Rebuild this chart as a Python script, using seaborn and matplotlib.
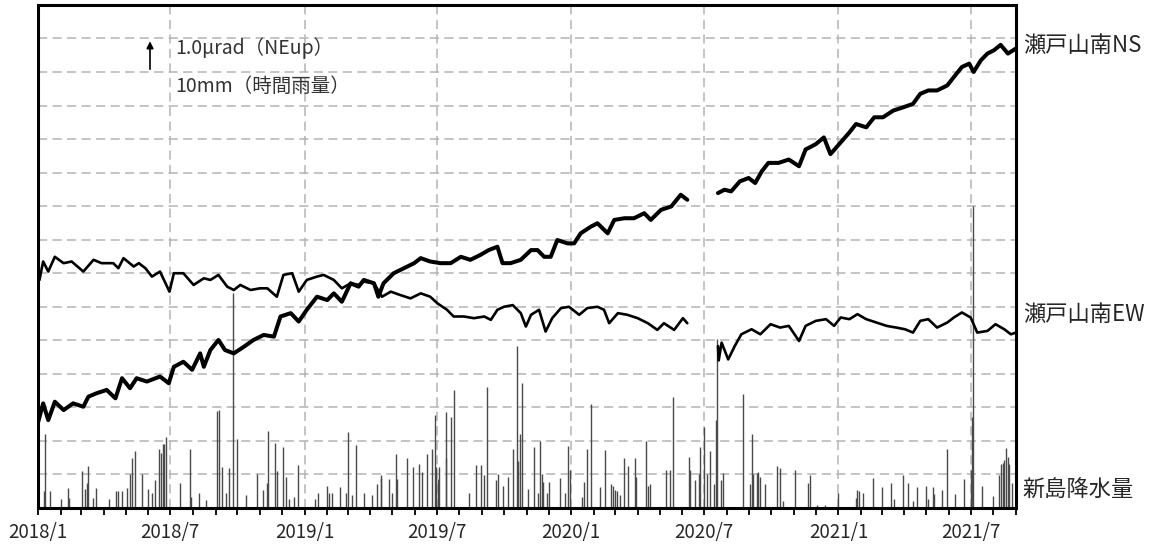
import pandas as pd
import matplotlib.pyplot as plt
import matplotlib.dates as mdates
from matplotlib.ticker import FuncFormatter
import numpy as np
import seaborn as sns

sns.set_style('white')
plt.rcParams['font.family'] = ['Noto Sans CJK JP', 'DejaVu Sans']

start = pd.Timestamp('2018-01-01')

# 瀬戸山南NS (日数: 2018/1/1からの経過日, 値: 図上の位置 [μrad])
ns_day = [0, 7, 14, 23, 35, 48, 62, 69, 80, 94, 106, 115, 126, 135, 149, 167, 179, 186,
          199, 211, 222, 227, 236, 247, 256, 268, 282, 295, 309, 323, 332, 346, 357, 368,
          382, 396, 405, 416, 428, 439, 446, 460, 466, 473, 487, 501, 515, 524, 537, 551,
          565, 579, 592, 606, 617, 629, 636, 647, 661, 675, 684, 693, 702, 711, 725, 734,
          743, 757, 766, 780, 789, 803, 816, 830, 839, 853, 867, 880, 889,
          931, 940, 949, 961, 973, 982, 991, 1000, 1014, 1028, 1042, 1051, 1065, 1076,
          1085, 1097, 1111, 1120, 1134, 1145, 1157, 1171, 1185, 1198, 1208, 1219, 1231,
          1245, 1254, 1265, 1275, 1281, 1291, 1300, 1309, 1318, 1328, 1339]
ns_val = [2.55, 3.12, 2.62, 3.17, 2.92, 3.12, 3.02, 3.32, 3.42, 3.52, 3.27, 3.87, 3.57, 3.87,
          3.77, 3.92, 3.72, 4.21, 4.36, 4.12, 4.61, 4.21, 4.71, 5.01, 4.71, 4.61, 4.81, 5.01,
          5.16, 5.11, 5.71, 5.81, 5.56, 5.91, 6.30, 6.20, 6.40, 6.15, 6.70, 6.60, 6.80, 6.70,
          6.30, 6.70, 7.00, 7.15, 7.30, 7.45, 7.35, 7.30, 7.30, 7.49, 7.40, 7.55, 7.69, 7.79,
          7.30, 7.30, 7.40, 7.69, 7.69, 7.49, 7.49, 7.99, 7.89, 7.89, 8.19, 8.39, 8.49, 8.19,
          8.59, 8.64, 8.64, 8.79, 8.59, 8.89, 8.99, 9.34, 9.19,
          9.39, 9.49, 9.44, 9.74, 9.84, 9.69, 10.04, 10.29, 10.29, 10.39, 10.19, 10.69, 10.85,
          11.05, 10.55, 10.85, 11.20, 11.45, 11.35, 11.65, 11.65, 11.85, 11.95, 12.05, 12.35,
          12.45, 12.45, 12.60, 12.85, 13.15, 13.25, 13.00, 13.35, 13.55, 13.65, 13.81, 13.55,
          13.70]

# 瀬戸山南EW
ew_day = [0, 2, 7, 14, 23, 35, 46, 62, 76, 87, 103, 110, 117, 131, 138, 147, 156, 167,
          180, 186, 199, 213, 227, 236, 247, 259, 268, 277, 291, 304, 314, 327, 336, 348,
          357, 368, 382, 391, 405, 416, 428, 439, 446, 460, 471, 483, 496, 510, 524, 537,
          547, 560, 569, 583, 597, 611, 620, 629, 638, 650, 661, 668, 675, 686, 695, 704,
          716, 727, 741, 752, 766, 775, 782, 794, 807, 821, 835, 848, 857, 871, 883, 889,
          931, 932, 936, 945, 954, 963, 977, 989, 1003, 1016, 1028, 1042, 1051, 1065, 1079,
          1090, 1099, 1111, 1122, 1134, 1148, 1162, 1175, 1187, 1198, 1208, 1219, 1231,
          1245, 1254, 1265, 1277, 1286, 1300, 1311, 1323, 1332, 1339]
ew_val = [7.05, 6.80, 7.35, 7.05, 7.49, 7.30, 7.35, 7.05, 7.40, 7.30, 7.30, 7.15, 7.45,
          7.20, 7.30, 7.15, 6.90, 7.05, 6.45, 7.00, 7.00, 6.65, 6.85, 6.80, 6.95, 6.60, 6.50,
          6.65, 6.50, 6.55, 6.55, 6.30, 6.95, 7.00, 6.45, 6.80, 6.90, 6.95, 6.80, 6.55, 6.70,
          6.65, 6.75, 6.70, 6.30, 6.45, 6.35, 6.25, 6.40, 6.30, 6.10, 5.91, 5.71, 5.71, 5.66,
          5.71, 5.61, 5.91, 6.00, 6.05, 5.81, 5.41, 5.76, 5.91, 5.26, 5.66, 5.96, 6.00, 5.76,
          5.96, 6.00, 5.91, 5.51, 5.81, 5.76, 5.66, 5.51, 5.31, 5.51, 5.31, 5.66, 5.51,
          4.83, 4.40, 4.93, 4.43, 4.83, 5.18, 5.33, 5.18, 5.48, 5.38, 5.43, 4.98, 5.43, 5.58,
          5.63, 5.43, 5.68, 5.63, 5.78, 5.63, 5.53, 5.43, 5.38, 5.33, 5.23, 5.58, 5.63, 5.38,
          5.53, 5.68, 5.83, 5.68, 5.23, 5.28, 5.48, 5.33, 5.18, 5.23]

# 新島降水量 (時間雨量 mm)
rain_day = [8, 9, 17, 32, 41, 43, 60, 64, 67, 68,
            75, 80, 97, 107, 110, 115, 122, 126, 128, 133,
            143, 150, 156, 160, 166, 169, 171, 173, 175, 194,
            208, 210, 220, 230, 245, 248, 252, 257, 262, 267,
            273, 285, 300, 308, 313, 315, 325, 327, 336, 339,
            344, 351, 356, 379, 384, 396, 399, 403, 414, 421,
            424, 430, 435, 447, 457, 464, 469, 470, 480, 485,
            490, 492, 505, 513, 522, 526, 532, 539, 544, 545,
            547, 549, 558, 559, 565, 569, 590, 600, 606, 610,
            615, 627, 630, 637, 644, 650, 656, 657, 660, 663,
            671, 679, 684, 687, 690, 692, 697, 700, 715, 721,
            725, 729, 745, 748, 752, 757, 769, 776, 785, 787,
            790, 793, 797, 803, 808, 817, 819, 833, 835, 838,
            860, 866, 869, 892, 893, 900, 905, 907, 912, 916,
            920, 925, 928, 930, 935, 938, 965, 975, 977, 979,
            984, 986, 988, 996, 1012, 1016, 1020, 1036, 1054, 1057,
            1066, 1077, 1095, 1120, 1122, 1124, 1130, 1143, 1156, 1168,
            1172, 1185, 1191, 1198, 1204, 1216, 1218, 1225, 1227, 1238,
            1245, 1255, 1268, 1278, 1279, 1280, 1293, 1308, 1316, 1319,
            1321, 1323, 1326, 1328, 1330, 1333]
rain_mm = [5, 22, 5, 2.6, 6, 3, 11, 5.7, 7.4, 12.5,
           3, 6, 2.6, 5, 5, 5, 6, 10, 15, 17,
           10, 5.7, 4.4, 8.4, 17.6, 16.3, 19, 19, 21.3, 7.4,
           17.6, 3.4, 4.6, 2.4, 29, 29.3, 12.3, 4.4, 12, 64,
           20.5, 3.9, 10, 5.4, 7.4, 23, 19.5, 11, 18.3, 9.3,
           2.6, 3.4, 12.9, 2.6, 4.4, 6.7, 4.4, 4.4, 6.2, 4.4,
           22.8, 3.8, 18.8, 4.6, 3.9, 7.2, 9.7, 8.9, 8.5, 4.4,
           16.1, 8.5, 15, 12.2, 13, 10.8, 16.1, 17.7, 27.6, 12.3,
           8.5, 12.3, 28.7, 14.9, 27, 35.2, 4.6, 12.9, 12.9, 9.7,
           36.1, 8.3, 10.1, 6.6, 9.3, 17.7, 48.3, 13.9, 22.2, 37.4,
           5.8, 18.3, 4.4, 20, 10.1, 7.8, 4.6, 7.7, 8.9, 4.4,
           18.5, 11.3, 3.2, 7.7, 17.7, 31, 6.2, 17.3, 7.3, 6.6,
           5.4, 5, 3.9, 14.9, 12.6, 14.9, 9.3, 20.1, 6.5, 7.2,
           11.3, 11.3, 33.2, 15.3, 11.3, 8.3, 10.1, 18.3, 24.2, 10.1,
           17.1, 7.3, 26.2, 50.5, 8.3, 10.5, 34, 7.3, 22.2, 10.1,
           10.3, 10.6, 9.3, 7.3, 12.5, 11.8, 2, 11.4, 7.4, 9.7,
           0.8, 1, 4.6, 3.1, 5.3, 5.2, 4.5, 9, 6.2, 7.4,
           2.6, 9.7, 7.4, 2.1, 6.2, 6.7, 2.6, 6.2, 4.1, 5.3,
           17.5, 4.3, 8.7, 11.2, 27, 90, 6.7, 3.6, 9.7, 13.2,
           13.4, 14.2, 17.8, 15.2, 13, 7.4]

gap_day = 910  # 欠測期間 (2020年6月〜7月)


def make_df(days, vals):
    df = pd.DataFrame({'day': days, 'val': vals})
    df['date'] = start + pd.to_timedelta(df['day'], unit='D')
    df['seg'] = (df['day'] > gap_day).astype(int)
    return df


ns = make_df(ns_day, ns_val)
ew = make_df(ew_day, ew_val)
rain_dates = start + pd.to_timedelta(rain_day, unit='D')

fig = plt.figure(figsize=(11.49, 5.48), dpi=100)
ax = fig.add_axes([0.0331, 0.073, 0.8511, 0.918])

# 降水量 (10mm = 1目盛)
ax.vlines(rain_dates, 0, np.array(rain_mm) / 10, colors='#4a4a4a', lw=1.0, zorder=2)

sns.lineplot(data=ns, x='date', y='val', units='seg', estimator=None,
             color='black', lw=2.9, ax=ax, zorder=3,
             solid_joinstyle='round', solid_capstyle='round')
sns.lineplot(data=ew, x='date', y='val', units='seg', estimator=None,
             color='black', lw=1.9, ax=ax, zorder=3,
             solid_joinstyle='round', solid_capstyle='round')

ax.set_xlim(start, pd.Timestamp('2021-09-01'))
ax.set_ylim(0, 15)
ax.set_xlabel('')
ax.set_ylabel('')

ax.xaxis.set_major_locator(mdates.MonthLocator(bymonth=[1, 7]))
ax.xaxis.set_minor_locator(mdates.MonthLocator())
ax.xaxis.set_major_formatter(FuncFormatter(lambda v, p: f"{mdates.num2date(v).year}/{mdates.num2date(v).month}"))
ax.set_yticks(range(0, 16))
ax.set_yticklabels([])
ax.tick_params(axis='y', length=0)
ax.tick_params(axis='x', which='both', direction='out', length=5, width=1.3,
               color='black', bottom=True)
ax.tick_params(axis='x', which='major', labelsize=13.5, pad=5)

ax.grid(True, axis='both', which='major', color='#b4b4b4', lw=1.1, ls=(0, (6, 3.5)))
ax.set_axisbelow(True)
for s in ax.spines.values():
    s.set_color('black')
    s.set_linewidth(2.2)

# スケール表示
ax.annotate('', xy=(0.1145, 14 / 15), xytext=(0.1145, 13 / 15), xycoords='axes fraction',
            arrowprops=dict(arrowstyle='-|>', color='black', lw=1.2, mutation_scale=10))
ax.text(0.140, 0.914, '1.0μrad（NEup）', transform=ax.transAxes, fontsize=14,
        color='#333333', va='center', ha='left')
ax.text(0.140, 0.837, '10mm（時間雨量）', transform=ax.transAxes, fontsize=14,
        color='#333333', va='center', ha='left')

# 右側ラベル
ax.text(1.007, 0.920, '瀬戸山南NS', transform=ax.transAxes, fontsize=16, va='center', ha='left')
ax.text(1.007, 0.384, '瀬戸山南EW', transform=ax.transAxes, fontsize=16, va='center', ha='left')
ax.text(1.007, 0.036, '新島降水量', transform=ax.transAxes, fontsize=16, va='center', ha='left')

fig.savefig('out.png', dpi=100)
plt.close()
